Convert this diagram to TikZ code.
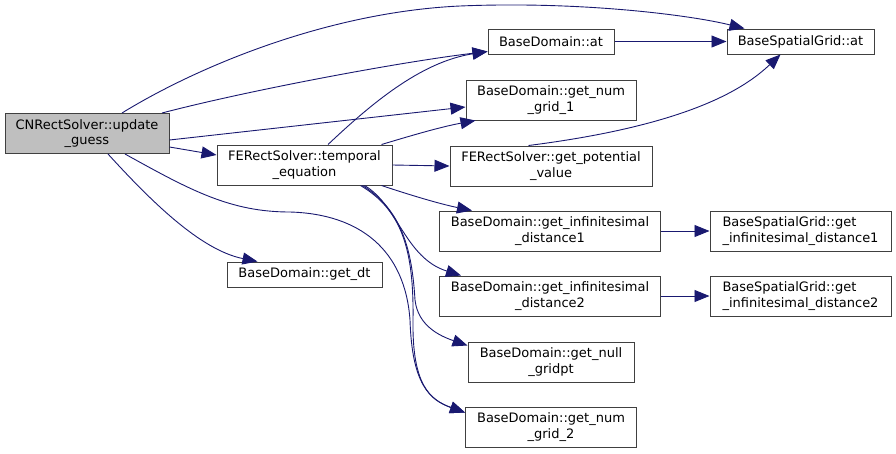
\documentclass[tikz,border=0pt]{standalone}
\usepackage{fontspec}
\setmainfont{DejaVu Sans}
\usetikzlibrary{arrows.meta}
\definecolor{edgec}{HTML}{191970}
\definecolor{boxc}{HTML}{404040}
\definecolor{hilite}{HTML}{BFBFBF}
\tikzset{bigtip/.tip={Triangle[length=15pt,width=12pt]}}
\begin{document}
\begin{tikzpicture}[x=1pt,y=-1pt,
  fn/.style={draw=boxc,line width=1pt,fill=white,inner sep=0pt,align=center,
    font=\fontsize{13}{15.5}\selectfont,text=black},
  fnl/.style={fn,align=left},
  call/.style={draw=edgec,line width=0.9pt,arrows={-bigtip}}]
\useasboundingbox (0,0) rectangle (896,453);
\node[fn,fill=hilite,minimum width=164pt,minimum height=40pt] (upd) at (87,133.5) {CNRectSolver::update\\\_guess};
\node[fn,minimum width=175pt,minimum height=40pt] (temp) at (304.5,165) {FERectSolver::temporal\\\_equation};
\node[fn,minimum width=126pt,minimum height=25pt] (bdat) at (551,41.5) {BaseDomain::at};
\node[fn,minimum width=147pt,minimum height=25pt] (bsgat) at (800.5,41.5) {BaseSpatialGrid::at};
\node[fn,minimum width=170pt,minimum height=40pt] (ng1) at (551,100) {BaseDomain::get\_num\\\_grid\_1};
\node[fn,minimum width=202pt,minimum height=40pt] (pot) at (551,166) {FERectSolver::get\_potential\\\_value};
\node[fn,minimum width=221pt,minimum height=40pt] (inf1) at (550,231) {BaseDomain::get\_infinitesimal\\\_distance1};
\node[fnl,minimum width=181pt,minimum height=40pt] (sinf1) at (800.5,231) {BaseSpatialGrid::get\\\_infinitesimal\_distance1};
\node[fn,minimum width=221pt,minimum height=40pt] (inf2) at (550,296) {BaseDomain::get\_infinitesimal\\\_distance2};
\node[fnl,minimum width=181pt,minimum height=40pt] (sinf2) at (800.5,296) {BaseSpatialGrid::get\\\_infinitesimal\_distance2};
\node[fn,minimum width=166pt,minimum height=40pt] (null) at (551,362) {BaseDomain::get\_null\\\_gridpt};
\node[fn,minimum width=171pt,minimum height=40pt] (ng2) at (551,427) {BaseDomain::get\_num\\\_grid\_2};
\node[fn,minimum width=155pt,minimum height=25pt] (dt) at (304.5,274.5) {BaseDomain::get\_dt};
% edges from update_guess
\draw[call] ([xshift=35pt]upd.north) .. controls (200,65) and (330,12) .. (460,6) .. controls (580,1) and (690,15) .. ([xshift=18pt]bsgat.north west);
\draw[call] ([xshift=75pt]upd.north) .. controls (250,90) and (400,62) .. ([yshift=3pt]bdat.south west);
\draw[call] ([yshift=-6.5pt]upd.east) -- ([yshift=-7pt]ng1.west);
\draw[call] ([yshift=-13.5pt]upd.east) -- ([yshift=10pt]temp.west);
\draw[call] ([xshift=21pt]upd.south) .. controls (150,200) and (200,250) .. ([xshift=31pt]dt.north west);
\draw[call] ([xshift=38pt]upd.south) .. controls (190,190) and (230,212) .. (290,212) .. controls (360,214) and (405,250) .. (410,320) .. controls (412,385) and (430,400) .. ([yshift=-6pt]ng2.north west);
% edges from temporal_equation
\draw[call] ([xshift=23.5pt]temp.north) .. controls (370,105) and (420,62) .. ([yshift=3pt]bdat.south west);
\draw[call] ([xshift=77pt]temp.north) .. controls (410,136) and (440,127) .. ([xshift=10pt]ng1.south west);
\draw[call] (temp.east) -- (pot.west);
\draw[call] ([xshift=77pt]temp.south) .. controls (410,195) and (440,204) .. ([xshift=33pt]inf1.north west);
\draw[call] ([xshift=60pt]temp.south) .. controls (398,205) and (405,258) .. ([xshift=22pt]inf2.north west);
\draw[call] ([xshift=58pt]temp.south) .. controls (402,210) and (412,250) .. (415,300) .. controls (418,326) and (440,336) .. ([yshift=-4pt]null.north west);
\draw[call] ([xshift=56pt]temp.south) .. controls (402,210) and (414,250) .. (413,320) .. controls (412,385) and (430,400) .. ([yshift=-6pt]ng2.north west);
% others
\draw[call] (bdat.east) -- (bsgat.west);
\draw[call] ([xshift=79pt]pot.north west) .. controls (690,125) and (745,88) .. ([xshift=54pt]bsgat.south west);
\draw[call] (inf1.east) -- (sinf1.west);
\draw[call] (inf2.east) -- (sinf2.west);
\end{tikzpicture}
\end{document}
